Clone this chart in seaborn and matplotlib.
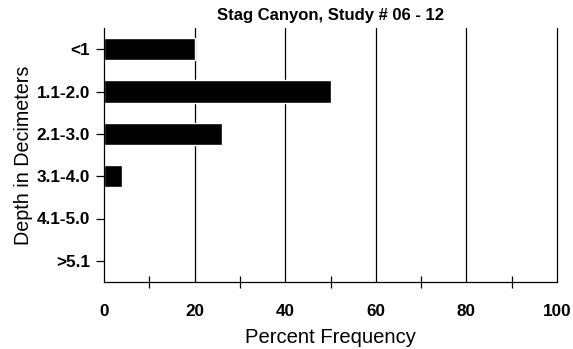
import numpy as np
import pandas as pd
import matplotlib
matplotlib.use('Agg')
import matplotlib.pyplot as plt
import seaborn as sns
from matplotlib.ticker import MultipleLocator

depth_classes = ['<1', '1.1-2.0', '2.1-3.0', '3.1-4.0', '4.1-5.0', '>5.1']
percent_freq = [20, 50, 26, 4, 0, 0]
x_ticks = [0, 20, 40, 60, 80, 100]

df = pd.DataFrame({'Depth': depth_classes, 'Percent': percent_freq})

sns.set_style('white')
plt.rcParams['font.family'] = ['Liberation Sans', 'DejaVu Sans']
plt.rcParams['text.color'] = 'black'
plt.rcParams['axes.labelcolor'] = 'black'
plt.rcParams['xtick.color'] = 'black'
plt.rcParams['ytick.color'] = 'black'

fig = plt.figure(figsize=(5.73, 3.49), dpi=100)
ax = fig.add_axes([104 / 573, 1 - 282 / 349, (557 - 104) / 573, (282 - 28) / 349])

sns.barplot(data=df, x='Percent', y='Depth', order=depth_classes, color='black',
            width=0.52, orient='h', ax=ax, saturation=1)

ax.set_xlim(0, 100)
ax.set_ylim(5.5, -0.5)
for x in x_ticks[1:]:
    ax.axvline(x, color='black', lw=0.9, zorder=0, clip_on=False)

ax.set_xticks(x_ticks)
ax.set_xticklabels([str(v) for v in x_ticks], fontweight='bold', fontsize=12.3)
ax.xaxis.set_minor_locator(MultipleLocator(10))
ax.tick_params(axis='x', which='major', direction='inout', length=10, width=0.9, color='black', pad=11)
ax.tick_params(axis='x', which='minor', direction='inout', length=8, width=0.9, color='black', bottom=True)
ax.tick_params(axis='y', which='major', direction='out', length=6, width=0.9, color='black', left=True, pad=4)
for lbl in ax.get_yticklabels():
    lbl.set_fontweight('bold')
    lbl.set_fontsize(12.3)

for side in ['top', 'right']:
    ax.spines[side].set_visible(False)
for side in ['left', 'bottom']:
    ax.spines[side].set_visible(True)
    ax.spines[side].set_color('black')
    ax.spines[side].set_linewidth(0.9)

ax.set_xlabel('Percent Frequency', fontsize=14.6, labelpad=6)
ax.set_ylabel('Depth in Decimeters', fontsize=14.2, labelpad=3)
ax.set_title('Stag Canyon, Study # 06 - 12', fontweight='bold', fontsize=12, pad=6)

fig.savefig('out.png', dpi=100)
